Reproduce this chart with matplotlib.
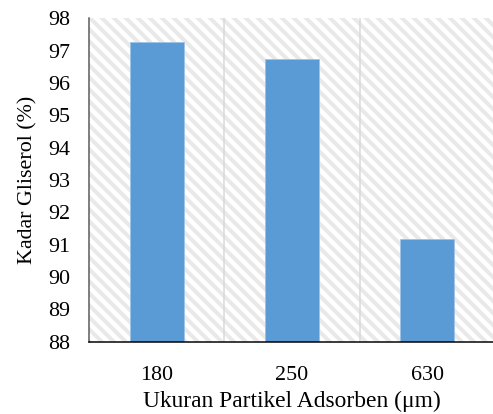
import matplotlib
matplotlib.use("Agg")
from matplotlib import pyplot as plt

# particle size of the adsorbent and glycerol content
ukuran = ["180", "250", "630"]
kadar = [97.28, 96.74, 91.17]
y_ticks = [88, 89, 90, 91, 92, 93, 94, 95, 96, 97, 98]

plt.rcParams['font.family'] = ['Liberation Serif', 'DejaVu Serif']
plt.rcParams['hatch.color'] = '#e9e9e9'
plt.rcParams['hatch.linewidth'] = 4.0

fig = plt.figure(figsize=(493 / 72, 414 / 72), dpi=72)
ax = fig.add_axes([89 / 493, 72.3 / 414, 406 / 493, 323.4 / 414])

# striped plot area
ax.patch.set_facecolor('white')
ax.patch.set_hatch('\\\\')
ax.patch.set_edgecolor('#e9e9e9')
ax.patch.set_linewidth(0)

x = list(range(len(ukuran)))
ax.bar(x, kadar, width=0.4, color='#5b9bd5', edgecolor='#9cc3e6', linewidth=0.8, zorder=3)

# separators between categories
for b in [0.5, 1.5]:
    ax.axvline(b, color='#d9d9d9', lw=1.5, zorder=2)

ax.set_xlim(-0.5, 2.5)
ax.set_ylim(88, 98)
ax.set_yticks(y_ticks)
ax.set_xticks(x)
ax.set_xticklabels(ukuran)

ax.tick_params(axis='y', length=0, pad=19, labelsize=22)
ax.tick_params(axis='x', length=0, pad=24, labelsize=22)

for s in ['top', 'right']:
    ax.spines[s].set_visible(False)
ax.spines['left'].set_color('#595959')
ax.spines['left'].set_linewidth(1.5)
ax.spines['bottom'].set_color('black')
ax.spines['bottom'].set_linewidth(1.5)
ax.spines['left'].set_zorder(4)
ax.spines['bottom'].set_zorder(4)

ax.set_xlabel('Ukuran Partikel Adsorben (μm)', fontsize=23.5, labelpad=6)
ax.set_ylabel('Kadar Gliserol (%)', fontsize=22, labelpad=10)

fig.savefig('out.png', dpi=72)
